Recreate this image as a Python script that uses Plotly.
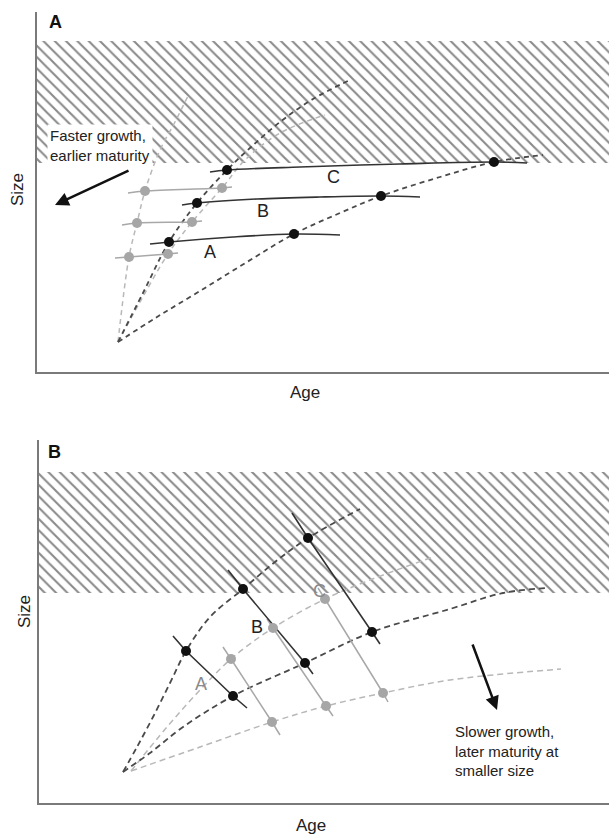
import plotly.graph_objects as go

W, H = 609, 834
FONT = "Arial, Liberation Sans, Helvetica, sans-serif"

# ---------------- Panel A data (arbitrary Age / Size units) ----------------
A_xrange = [0, 572]
A_yrange = [0, 360]
A_hatch_x = [0, 572, 572, 0]
A_hatch_y = [209, 209, 331, 331]

# growth trajectories (dashed)
A_L1_x = [81, 92, 100, 108, 123, 138, 151]
A_L1_y = [30, 115, 149, 181, 222, 250, 276]
A_L2_x = [81, 103, 131, 155, 185, 208, 243, 288]
A_L2_y = [30, 70, 118, 150, 184, 212, 239, 257]
A_D1_x = [81, 106, 132, 160, 190, 213, 243, 276, 313]
A_D1_y = [30, 79, 130, 169, 202, 224, 250, 273, 292]
A_D2_x = [81, 120, 163, 210, 257, 303, 344, 403, 457, 506]
A_D2_y = [30, 55, 81, 110, 138, 159, 176, 195, 210, 217]

# maturation reaction norms (solid)
A_normA_x = [113, 132, 196, 257, 303]
A_normA_y = [128, 130, 135, 138, 137]
A_normB_x = [145, 160, 220, 283, 344, 383]
A_normB_y = [167, 169, 173, 175, 176, 175]
A_normC_x = [173, 190, 263, 363, 457, 490]
A_normC_y = [200, 202, 205, 208, 210, 209]
A_gray1_x = [78, 92, 131, 141]
A_gray1_y = [114, 115, 118, 119]
A_gray2_x = [85, 100, 155, 165]
A_gray2_y = [147, 149, 150, 151]
A_gray3_x = [91, 108, 185, 195]
A_gray3_y = [179, 181, 184, 185]

# maturation points
A_black_x = [132, 160, 190, 257, 344, 457]
A_black_y = [130, 169, 202, 138, 176, 210]
A_gray_x = [92, 100, 108, 131, 155, 185]
A_gray_y = [115, 149, 181, 118, 150, 184]

A_labels = ["A", "B", "C"]
A_label_x = [173, 226, 296]
A_label_y = [120, 161, 195]

# ---------------- Panel B data ----------------
B_xrange = [0, 570]
B_yrange = [0, 363]
B_hatch_x = [0, 570, 570, 0]
B_hatch_y = [210, 210, 331, 331]

B_D1_x = [84, 98, 114, 131, 147, 171, 204, 236, 269, 321]
B_D1_y = [31, 56, 86, 120, 152, 186, 214, 241, 265, 294]
B_L1_x = [92, 128, 161, 192, 234, 286, 331, 394]
B_L1_y = [32, 76, 113, 144, 175, 204, 223, 246]
B_D2_x = [84, 111, 144, 194, 266, 333, 411, 464, 508]
B_D2_y = [31, 50, 76, 107, 140, 171, 194, 210, 215]
B_L2_x = [92, 161, 233, 287, 344, 411, 522]
B_L2_y = [32, 56, 81, 97, 110, 123, 134]

B_normA_x = [134, 147, 194, 208]
B_normA_y = [167, 152, 107, 95]
B_normB_x = [189, 204, 266, 274]
B_normB_y = [233, 214, 140, 129]
B_normC_x = [253, 269, 333, 341]
B_normC_y = [290, 265, 171, 159]
B_grayA_x = [184, 192, 233, 241]
B_grayA_y = [156, 144, 81, 68]
B_grayB_x = [228, 234, 287, 294]
B_grayB_y = [184, 175, 97, 87]
B_grayC_x = [279, 286, 344, 349]
B_grayC_y = [215, 204, 110, 101]

B_black_x = [147, 204, 269, 194, 266, 333]
B_black_y = [152, 214, 265, 107, 140, 171]
B_gray_x = [192, 234, 286, 233, 287, 344]
B_gray_y = [144, 175, 204, 81, 97, 110]

B_labels = ["A", "B", "C"]
B_label_x = [162, 218, 280]
B_label_y = [119, 176, 212]
B_label_colors = ["#8a8a8a", "#222222", "#8a8a8a"]

DARK = "#4a4a4a"
LIGHT = "#b8b8b8"
BLACK = "#111111"
GRAYDOT = "#a6a6a6"

fig = go.Figure()


def hatch(x, y, xa, ya):
    fig.add_trace(go.Scatter(
        x=x, y=y, xaxis=xa, yaxis=ya, mode="lines", fill="toself",
        line=dict(width=0, color="rgba(0,0,0,0)"),
        fillcolor="white",
        fillpattern=dict(shape="\\", size=8, solidity=0.26,
                         fgcolor="#8a8a8a", bgcolor="white", fillmode="replace"),
        hoverinfo="skip", showlegend=False))


def dashed(x, y, xa, ya, color, width=1.8, dash="5px,4px"):
    fig.add_trace(go.Scatter(
        x=x, y=y, xaxis=xa, yaxis=ya, mode="lines",
        line=dict(color=color, width=width, dash=dash, shape="spline"),
        hoverinfo="skip", showlegend=False))


def solid(x, y, xa, ya, color, width=1.5, shape="spline"):
    fig.add_trace(go.Scatter(
        x=x, y=y, xaxis=xa, yaxis=ya, mode="lines",
        line=dict(color=color, width=width, shape=shape),
        hoverinfo="skip", showlegend=False))


def dots(x, y, xa, ya, color):
    fig.add_trace(go.Scatter(
        x=x, y=y, xaxis=xa, yaxis=ya, mode="markers",
        marker=dict(color=color, size=10, line=dict(width=0)),
        hoverinfo="skip", showlegend=False))


# Panel A
hatch(A_hatch_x, A_hatch_y, "x", "y")
dashed(A_L1_x, A_L1_y, "x", "y", LIGHT, 1.5)
dashed(A_L2_x, A_L2_y, "x", "y", LIGHT, 1.5)
dashed(A_D1_x, A_D1_y, "x", "y", DARK)
dashed(A_D2_x, A_D2_y, "x", "y", DARK)
for gx, gy in [(A_gray1_x, A_gray1_y), (A_gray2_x, A_gray2_y), (A_gray3_x, A_gray3_y)]:
    solid(gx, gy, "x", "y", "#a8a8a8", 1.5)
for nx, ny in [(A_normA_x, A_normA_y), (A_normB_x, A_normB_y), (A_normC_x, A_normC_y)]:
    solid(nx, ny, "x", "y", "#333333", 1.6)
dots(A_gray_x, A_gray_y, "x", "y", GRAYDOT)
dots(A_black_x, A_black_y, "x", "y", BLACK)

# Panel B
hatch(B_hatch_x, B_hatch_y, "x2", "y2")
dashed(B_L1_x, B_L1_y, "x2", "y2", LIGHT, 1.5, "6px,4px")
dashed(B_L2_x, B_L2_y, "x2", "y2", LIGHT, 1.5, "6px,4px")
dashed(B_D1_x, B_D1_y, "x2", "y2", DARK, 1.8, "6px,4px")
dashed(B_D2_x, B_D2_y, "x2", "y2", DARK, 1.8, "6px,4px")
for gx, gy in [(B_grayA_x, B_grayA_y), (B_grayB_x, B_grayB_y), (B_grayC_x, B_grayC_y)]:
    solid(gx, gy, "x2", "y2", "#a8a8a8", 1.5, "linear")
for nx, ny in [(B_normA_x, B_normA_y), (B_normB_x, B_normB_y), (B_normC_x, B_normC_y)]:
    solid(nx, ny, "x2", "y2", "#333333", 1.6, "linear")
dots(B_gray_x, B_gray_y, "x2", "y2", GRAYDOT)
dots(B_black_x, B_black_y, "x2", "y2", BLACK)

ann = []
for t, x, y in zip(A_labels, A_label_x, A_label_y):
    ann.append(dict(text=t, x=x, y=y, xref="x", yref="y", showarrow=False,
                    xanchor="center", yanchor="middle",
                    font=dict(family=FONT, size=18, color="#222222")))
for t, x, y, c in zip(B_labels, B_label_x, B_label_y, B_label_colors):
    ann.append(dict(text=t, x=x, y=y, xref="x2", yref="y2", showarrow=False,
                    xanchor="center", yanchor="middle",
                    font=dict(family=FONT, size=18, color=c)))

# explanatory text + arrows
ann.append(dict(text="Faster growth,<br>earlier maturity", x=63, y=227, xref="x", yref="y",
                xanchor="center", yanchor="middle",
                showarrow=False, align="left", bgcolor="white", borderpad=2,
                font=dict(family=FONT, size=15, color="#222222")))
ann.append(dict(x=18, y=167, ax=93, ay=202, xref="x", yref="y", axref="x", ayref="y",
                showarrow=True, arrowhead=2, arrowsize=1.1, arrowwidth=2.5,
                arrowcolor="#111111", text=""))
ann.append(dict(text="Slower growth,<br>later maturity at<br>smaller size", x=414, y=52,
                xref="x2", yref="y2", xanchor="left", yanchor="middle",
                showarrow=False, align="left",
                font=dict(family=FONT, size=15, color="#222222")))
ann.append(dict(x=458, y=93, ax=433, ay=160, xref="x2", yref="y2", axref="x2", ayref="y2",
                showarrow=True, arrowhead=2, arrowsize=1.1, arrowwidth=2.5,
                arrowcolor="#111111", text=""))


# panel letters and axis titles (paper coords from pixel positions)
def px(xp, yp):
    return xp / W, 1 - yp / H


for t, (xp, yp) in [("A", (55, 22)), ("B", (54, 452))]:
    x, y = px(xp, yp)
    ann.append(dict(text="<b>%s</b>" % t, x=x, y=y, xref="paper", yref="paper",
                    xanchor="center", yanchor="middle",
                    showarrow=False, font=dict(family=FONT, size=18, color="#111111")))
for t, (xp, yp), ang in [("Size", (17, 190), -90), ("Age", (305, 393), 0),
                         ("Size", (24, 612), -90), ("Age", (311, 825), 0)]:
    x, y = px(xp, yp)
    ann.append(dict(text=t, x=x, y=y, xref="paper", yref="paper", textangle=ang,
                    xanchor="center", yanchor="middle",
                    showarrow=False, font=dict(family=FONT, size=17, color="#222222")))

axis_common = dict(showgrid=False, zeroline=False, showticklabels=False, ticks="",
                   showline=True, linecolor="#7a7a7a", linewidth=2, fixedrange=True)

fig.update_layout(
    width=W, height=H, margin=dict(l=0, r=0, t=0, b=0),
    paper_bgcolor="white", plot_bgcolor="white", showlegend=False,
    xaxis=dict(domain=[37 / W, 1], range=A_xrange, anchor="y", **axis_common),
    yaxis=dict(domain=[1 - 372 / H, 1 - 12 / H], range=A_yrange, anchor="x", **axis_common),
    xaxis2=dict(domain=[39 / W, 1], range=B_xrange, anchor="y2", **axis_common),
    yaxis2=dict(domain=[1 - 803 / H, 1 - 440 / H], range=B_yrange, anchor="x2", **axis_common),
    annotations=ann,
)

fig.write_html("out.html", config={"displayModeBar": False},
               post_script="document.body.style.margin='0';document.body.style.overflow='hidden';")
